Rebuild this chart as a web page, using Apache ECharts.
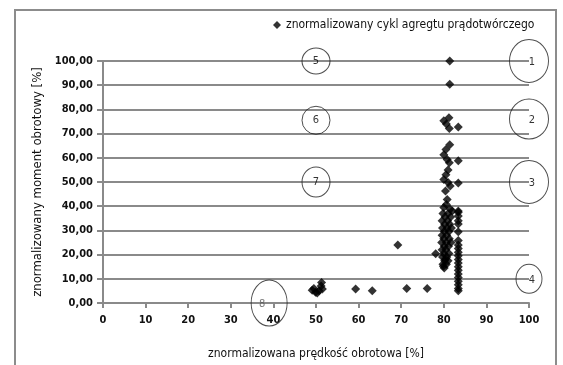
<!DOCTYPE html>
<html>
<head>
<meta charset="utf-8">
<script src="https://cdn.jsdelivr.net/npm/echarts@6/dist/echarts.min.js"></script>
<style>
  html, body { margin: 0; padding: 0; background: #fff; }
  #chart { width: 563px; height: 365px; }
</style>
</head>
<body>
<div id="chart"></div>
<script>
// Normalised speed [%] of each recorded operating point
const speed = [
  81.4, 81.4, 80.0, 81.2, 81.3, 83.4, 80.6,
  81.4, 80.5, 80.0, 80.8, 81.3, 83.4, 81.0, 80.5, 80.0, 81.0, 81.5, 83.4, 80.4,
  80.8, 80.6, 80.0, 81.5, 82.0, 83.4,
  79.8, 81.0, 80.3, 81.6, 79.6, 80.9, 80.2, 81.4, 79.7, 80.8, 81.8, 80.1, 81.2,
  79.6, 80.7, 80.0, 81.3, 79.5, 80.6, 81.7, 80.1, 81.1, 79.6, 80.5, 80.0, 81.2,
  79.7, 80.7, 80.2, 81.0, 79.8, 80.6, 80.1, 79.9, 80.4,
  83.4, 83.4, 83.4, 83.4, 83.4, 83.4, 83.4, 83.4, 83.4, 83.4, 83.4, 83.4, 83.4,
  83.4, 83.4, 83.4, 83.4, 83.4, 83.4, 83.4,
  78.1, 69.2, 59.3, 63.2, 71.3, 76.1,
  49.1, 49.9, 50.7, 51.5, 51.3, 50.3, 49.5, 51.2
];
// Normalised torque [%] of each recorded operating point
const torque = [
  100.0, 90.4, 75.3, 76.5, 72.1, 72.7, 74.0,
  65.4, 63.4, 61.3, 59.3, 58.0, 58.8, 55.0, 53.0, 51.0, 49.8, 48.3, 49.6, 46.3,
  42.8, 40.7, 39.5, 38.7, 38.0, 38.0,
  37.0, 37.0, 35.5, 35.5, 34.0, 34.0, 32.5, 32.5, 31.0, 31.0, 31.0, 29.5, 29.5,
  28.0, 28.0, 26.5, 26.5, 25.0, 25.0, 25.0, 23.5, 23.5, 22.0, 22.0, 20.5, 20.5,
  19.0, 19.0, 17.5, 17.5, 16.0, 16.0, 14.5, 15.2, 18.2,
  37.5, 36.0, 34.0, 32.6, 29.4, 25.8, 24.0, 22.5, 21.0, 19.5, 18.0, 16.5, 15.0,
  13.5, 12.0, 10.5, 9.0, 7.5, 6.0, 5.1,
  20.4, 24.0, 5.8, 5.1, 6.0, 6.0,
  5.3, 4.4, 5.1, 5.8, 8.5, 4.1, 6.0, 7.0
];

// Numbered test-cycle modes (speed %, torque %)
const modeSpeed = [100, 100, 100, 100, 50, 50, 50, 39];
const modeTorque = [100, 76, 50, 10, 100, 75.5, 50, 0];
const modeNames = ['1', '2', '3', '4', '5', '6', '7', '8'];

const seriesName = 'znormalizowany cykl agregtu prądotwórczego';
const xTitle = 'znormalizowana prędkość obrotowa [%]';
const yTitle = 'znormalizowany moment obrotowy [%]';

const FONT = '"Liberation Sans Narrow", "DejaVu Sans Condensed", "Liberation Sans", sans-serif';
const GRID_GRAY = '#8a8a8a';

// ring sizes for each mode marker [width, height]
const ringSize = [[39, 43], [39, 40], [39, 43], [26, 29], [28, 26], [28, 28], [28, 30], [36, 46]];

const points = speed.map((s, i) => [s, torque[i]]);
const modes = modeSpeed.map((s, i) => ({
  value: [s, modeTorque[i]],
  name: modeNames[i],
  symbolSize: ringSize[i],
  label: i === 7 ? { offset: [-7, 1], color: '#555' } : (i < 4 ? { offset: [3, 1] } : {})
}));

const chart = echarts.init(document.getElementById('chart'), null, { renderer: 'canvas' });
chart.setOption({
  animation: false,
  backgroundColor: '#fff',
  graphic: [{
    type: 'rect',
    shape: { x: 15, y: 10, width: 541, height: 380 },
    style: { fill: 'none', stroke: '#8c8c8c', lineWidth: 2 },
    silent: true
  }],
  legend: {
    data: [seriesName],
    left: 268,
    top: 14,
    icon: 'diamond',
    itemWidth: 8,
    itemHeight: 8,
    itemGap: 4,
    textStyle: { fontFamily: FONT, fontSize: 12, color: '#111' }
  },
  grid: { left: 103, right: 34, top: 61, bottom: 61 },
  xAxis: {
    type: 'value',
    min: 0, max: 100, interval: 10,
    name: xTitle,
    nameLocation: 'middle',
    nameGap: 45,
    nameTextStyle: { fontFamily: FONT, fontSize: 12, color: '#111' },
    axisLine: { show: true, lineStyle: { color: GRID_GRAY, width: 2 } },
    axisTick: { show: true, length: 5, lineStyle: { color: GRID_GRAY, width: 2 } },
    axisLabel: { fontFamily: FONT, fontSize: 11, color: '#111', fontWeight: 'bold', margin: 12 },
    splitLine: { show: false }
  },
  yAxis: {
    type: 'value',
    min: 0, max: 100, interval: 10,
    name: yTitle,
    nameLocation: 'middle',
    nameGap: 56,
    nameTextStyle: { fontFamily: FONT, fontSize: 13, color: '#111' },
    axisLine: { show: true, lineStyle: { color: GRID_GRAY, width: 2 } },
    axisTick: { show: true, length: 6, lineStyle: { color: GRID_GRAY, width: 2 } },
    axisLabel: {
      fontFamily: FONT, fontSize: 11, color: '#111', fontWeight: 'bold', margin: 10,
      formatter: v => v.toFixed(2).replace('.', ',')
    },
    splitLine: { show: true, lineStyle: { color: GRID_GRAY, width: 2 } }
  },
  series: [
    {
      name: seriesName,
      type: 'scatter',
      data: points,
      symbol: 'diamond',
      symbolSize: 9,
      itemStyle: { color: '#000' },
      z: 3
    },
    {
      name: 'modes',
      type: 'scatter',
      data: modes,
      symbol: 'circle',
      clip: false,
      itemStyle: { color: 'rgba(0,0,0,0)', borderColor: '#222', borderWidth: 1 },
      label: {
        show: true,
        position: 'inside',
        formatter: p => p.name,
        fontFamily: FONT,
        fontSize: 11,
        color: '#000'
      },
      z: 4,
      silent: true
    }
  ]
});
</script>
</body>
</html>
